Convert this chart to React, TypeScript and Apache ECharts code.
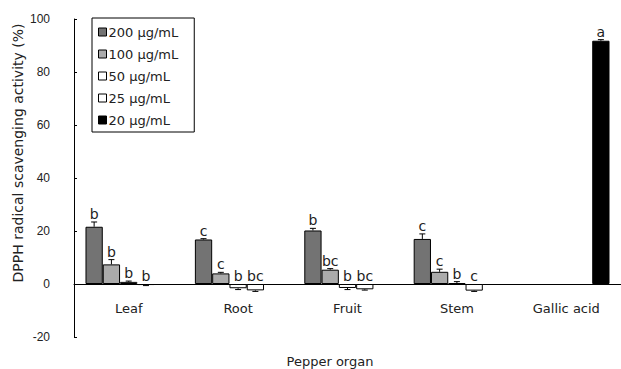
import React, { useEffect, useRef } from "react";
import * as echarts from "echarts";

const categories = ["Leaf", "Root", "Fruit", "Stem", "Gallic acid"];
const seriesNames = ["200 μg/mL", "100 μg/mL", "50 μg/mL", "25 μg/mL", "20 μg/mL"];
const seriesColors = ["#737373", "#ababab", "#ffffff", "#ffffff", "#000000"];
const values200 = [21.6, 16.8, 20.2, 17.0, null];
const values100 = [7.4, 4.0, 5.4, 4.6, null];
const values50 = [0.8, -1.6, -1.5, 0.3, null];
const values25 = [-0.4, -2.4, -2.0, -2.5, null];
const values20 = [null, null, null, null, 91.8];
const errors200 = [1.8, 0.3, 0.8, 1.9, 0];
const errors100 = [1.8, 0.4, 0.4, 1.0, 0];
const errors50 = [0.3, 0.5, 0.6, 0.6, 0];
const errors25 = [0.2, 0.4, 0.3, 0.3, 0];
const errors20 = [0, 0, 0, 0, 0.4];
const letters200 = ["b", "c", "b", "c", ""];
const letters100 = ["b", "c", "bc", "c", ""];
const letters50 = ["b", "b", "b", "b", ""];
const letters25 = ["b", "bc", "bc", "c", ""];
const letters20 = ["", "", "", "", "a"];
const yTicks = [-20, 0, 20, 40, 60, 80, 100];

const allValues = [values200, values100, values50, values25, values20];
const allErrors = [errors200, errors100, errors50, errors25, errors20];
const allLetters = [letters200, letters100, letters50, letters25, letters20];
const GAP = 0.21;

export default function App() {
  const ref = useRef<HTMLDivElement>(null);
  useEffect(() => {
    const chart = echarts.init(ref.current!, null, { renderer: "svg" });
    const errData: any[] = [];
    const errLetters: string[] = [];
    allValues.forEach((vals, s) => {
      vals.forEach((v, c) => {
        if (v === null) return;
        errData.push([c, s, v, allErrors[s][c]]);
        errLetters.push(allLetters[s][c]);
      });
    });
    const font = "'DejaVu Sans', sans-serif";
    const tickFont = "'Liberation Sans', Arial, sans-serif";
    chart.setOption({
      animation: false,
      textStyle: { fontFamily: font },
      grid: { left: 74, right: -7, top: 19, bottom: 32, containLabel: false },
      legend: {
        orient: "vertical",
        left: 92,
        top: 18,
        padding: [7, 16, 5, 6],
        itemWidth: 8,
        itemHeight: 8,
        itemGap: 8,
        borderColor: "#000",
        borderWidth: 1,
        icon: "rect",
        itemStyle: { borderColor: "#000", borderWidth: 1 },
        textStyle: { fontSize: 13, fontFamily: font, color: "#222", lineHeight: 14, padding: [0, 0, 0, -3] },
        data: seriesNames,
      },
      xAxis: {
        type: "category",
        data: categories,
        axisLine: { onZero: true, lineStyle: { color: "#000", width: 1 } },
        axisTick: { inside: true, length: 4, lineStyle: { color: "#000" } },
        axisLabel: { fontSize: 13, fontFamily: font, color: "#222", margin: -35 },
      },
      yAxis: {
        type: "value",
        min: -20,
        max: 100,
        interval: 20,
        splitLine: { show: false },
        axisLine: { show: true, lineStyle: { color: "#000", width: 1 } },
        axisTick: { show: true, inside: true, length: 3, lineStyle: { color: "#000" } },
        axisLabel: { fontSize: 12, fontFamily: tickFont, color: "#222", margin: 24, formatter: (v: number) => (yTicks.includes(v) ? String(v) : "") },
      },
      graphic: [
        {
          type: "text",
          x: 18,
          y: 153,
          rotation: Math.PI / 2,
          style: {
            text: "DPPH radical scavenging activity (%)",
            fontSize: 14,
            fontFamily: font,
            fill: "#222",
            align: "center",
            verticalAlign: "middle",
          },
        },
        {
          type: "text",
          x: 330,
          y: 361,
          style: {
            text: "Pepper organ",
            fontSize: 13,
            fontFamily: font,
            fill: "#222",
            align: "center",
            verticalAlign: "middle",
          },
        },
      ],
      series: [
        ...seriesNames.map((name, s) => ({
          name,
          type: "bar",
          data: allValues[s],
          barGap: "0%",
          barCategoryGap: GAP * 100 + "%",
          itemStyle: { color: seriesColors[s], borderColor: "#000", borderWidth: 1 },
        })),
        {
          type: "custom",
          z: 10,
          data: errData,
          encode: { x: 0, y: 2 },
          renderItem: (params: any, api: any) => {
            const c = api.value(0);
            const s = api.value(1);
            const v = api.value(2);
            const e = api.value(3);
            const catW = api.size([1, 0])[0];
            const bw = (catW * (1 - GAP)) / 5;
            const cx = api.coord([c, 0])[0] - 2.5 * bw + (s + 0.5) * bw;
            const end = v >= 0 ? v + e : v - e;
            const y0 = api.coord([c, v])[1];
            const y1 = api.coord([c, end])[1];
            const ty = api.coord([c, Math.max(end, 0)])[1] - 1;
            const children: any[] = [];
            if (e > 0) {
              children.push({ type: "line", shape: { x1: cx, y1: y0, x2: cx, y2: y1 }, style: { stroke: "#000", lineWidth: 1 } });
              children.push({ type: "line", shape: { x1: cx - 3, y1: y1, x2: cx + 3, y2: y1 }, style: { stroke: "#000", lineWidth: 1 } });
            }
            children.push({
              type: "text",
              x: cx,
              y: ty,
              style: { text: errLetters[params.dataIndex], fontSize: 14, fontFamily: font, fill: "#222", align: "center", verticalAlign: "bottom" },
            });
            return { type: "group", children };
          },
        },
      ],
    });
    return () => chart.dispose();
  }, []);
  return <div ref={ref} style={{ position: "fixed", left: 0, top: 0, width: 621, height: 369, background: "#fff" }} />;
}
